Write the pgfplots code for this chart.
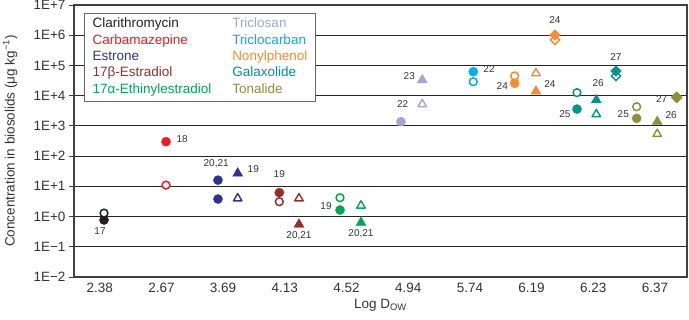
\documentclass[border=0pt]{standalone}
\usepackage{pgfplots}
\pgfplotsset{compat=1.18}
\usepackage{fontspec}
\setmainfont{Liberation Sans}
\definecolor{cClar}{HTML}{231F20}
\definecolor{cCarb}{HTML}{ED1C24}
\definecolor{cEone}{HTML}{2E3192}
\definecolor{cEtwo}{HTML}{992B2B}
\definecolor{cEE}{HTML}{00A651}
\definecolor{cTCS}{HTML}{9FA6D6}
\definecolor{cTCC}{HTML}{00AEEF}
\definecolor{cNP}{HTML}{F68B33}
\definecolor{cGal}{HTML}{00938F}
\definecolor{cTon}{HTML}{8F8E3B}
\definecolor{lbl}{HTML}{333333}
\pgfplotsset{
 fc/.style={only marks, mark=*, mark size=4.6pt, color=#1, mark options={solid, fill=#1, draw=#1, line width=0.3pt}},
 oc/.style={only marks, mark=*, mark size=3.9pt, color=#1, mark options={solid, fill=white, draw=#1, line width=1.5pt}},
 ft/.style={only marks, mark=triangle*, mark size=5.8pt, color=#1, mark options={solid, fill=#1, draw=#1, line width=0.3pt}},
 ot/.style={only marks, mark=triangle*, mark size=4.9pt, color=#1, mark options={solid, fill=white, draw=#1, line width=1.4pt, line join=round}},
 fd/.style={only marks, mark=square*, mark size=3.8pt, color=#1, mark options={solid, rotate=45, fill=#1, draw=#1, line width=0.3pt}},
 od/.style={only marks, mark=square*, mark size=3.3pt, color=#1, mark options={solid, rotate=45, fill=white, draw=#1, line width=1.5pt}},
}
\newcommand{\lab}[3]{\node[font=\fontsize{10}{12}\selectfont, text=lbl, inner sep=0pt] at (axis cs:#1,#2) {#3};}
\begin{document}
\begin{tikzpicture}
\begin{axis}[
 name=ax,
 scale only axis, width=613pt, height=272pt,
 xmin=-0.4165, xmax=9.519,
 ymode=log, ymin=1e-2, ymax=1e7,
 xtick={0,1,2,3,4,5,6,7,8,9},
 xticklabels={2.38,2.67,3.69,4.13,4.52,4.94,5.74,6.19,6.23,6.37},
 ytick={1e-2,1e-1,1,1e1,1e2,1e3,1e4,1e5,1e6,1e7},
 yticklabels={1E−2,1E−1,1E+0,1E+1,1E+2,1E+3,1E+4,1E+5,1E+6,1E+7},
 yminorticks=false,
 ymajorgrids,
 major grid style={line width=0.9pt, color=black!85},
 axis line style={line width=1.1pt, color=black!75},
 ytick pos=left, ytick align=outside,
 major tick length=5pt,
 ytick style={line width=1pt, color=black!75},
 xtick style={draw=none},
 ticklabel style={font=\fontsize{13.5}{16}\selectfont, text=lbl},
 xticklabel style={yshift=-2.5pt},
 xlabel={Log D\textsubscript{OW}},
 ylabel={Concentration in biosolids (μg kg\textsuperscript{−1})},
 label style={font=\fontsize{13.5}{16}\selectfont, text=lbl},
 xlabel style={at={(axis description cs:0.5,-0.103)}, anchor=center},
 ylabel style={at={(axis description cs:-0.104,0.5)}, anchor=center},
 clip=false,
]
% Clarithromycin
\addplot[fc=cClar] coordinates {(0.07,0.77)};
\addplot[oc=cClar] coordinates {(0.07,1.3)};
% Carbamazepine
\addplot[fc=cCarb] coordinates {(1.075,300)};
\addplot[oc=cCarb] coordinates {(1.075,11)};
% Estrone
\addplot[fc=cEone] coordinates {(1.917,16) (1.917,3.8)};
\addplot[ft=cEone] coordinates {(2.237,27)};
\addplot[ot=cEone] coordinates {(2.237,4.0)};
% 17b-Estradiol
\addplot[oc=cEtwo] coordinates {(2.911,3.1)};
\addplot[fc=cEtwo] coordinates {(2.911,6.2)};
\addplot[ot=cEtwo] coordinates {(3.23,4.0)};
\addplot[ft=cEtwo] coordinates {(3.23,0.55)};
% 17a-Ethinylestradiol
\addplot[oc=cEE] coordinates {(3.895,4.2)};
\addplot[fc=cEE] coordinates {(3.895,1.65)};
\addplot[ot=cEE] coordinates {(4.235,2.3)};
\addplot[ft=cEE] coordinates {(4.235,0.63)};
% Triclosan
\addplot[fc=cTCS] coordinates {(4.883,1380)};
\addplot[ft=cTCS] coordinates {(5.228,33000)};
\addplot[ot=cTCS] coordinates {(5.228,5200)};
% Triclocarban
\addplot[oc=cTCC] coordinates {(6.055,29000)};
\addplot[fc=cTCC] coordinates {(6.055,62000)};
% Nonylphenol
\addplot[oc=cNP] coordinates {(6.726,45000)};
\addplot[fc=cNP] coordinates {(6.726,25700)};
\addplot[ot=cNP] coordinates {(7.071,55000)};
\addplot[ft=cNP] coordinates {(7.071,14000)};
\addplot[od=cNP] coordinates {(7.379,700000)};
\addplot[fd=cNP] coordinates {(7.379,1020000)};
% Galaxolide
\addplot[oc=cGal] coordinates {(7.736,12600)};
\addplot[fc=cGal] coordinates {(7.736,3600)};
\addplot[ft=cGal] coordinates {(8.049,7200)};
\addplot[ot=cGal] coordinates {(8.049,2420)};
\addplot[od=cGal] coordinates {(8.368,44800)};
\addplot[fd=cGal] coordinates {(8.368,65600)};
% Tonalide
\addplot[oc=cTon] coordinates {(8.703,4300)};
\addplot[fc=cTon] coordinates {(8.703,1780)};
\addplot[ft=cTon] coordinates {(9.037,1380)};
\addplot[ot=cTon] coordinates {(9.037,540)};
\addplot[od=cTon] coordinates {(9.352,8600)};
\addplot[fd=cTon] coordinates {(9.352,9000)};
% labels
\lab{0.005}{0.33}{17}
\lab{1.337}{369}{18}
\lab{1.888}{57.8}{20,21}
\lab{2.489}{36.6}{19}
\lab{2.911}{25}{19}
\lab{3.23}{0.24}{20,21}
\lab{3.668}{2.23}{19}
\lab{4.235}{0.28}{20,21}
\lab{4.911}{5430}{22}
\lab{5.018}{44800}{23}
\lab{6.31}{76400}{22}
\lab{6.525}{21400}{24}
\lab{7.298}{24400}{24}
\lab{7.379}{3.19e6}{24}
\lab{7.541}{2420}{25}
\lab{8.079}{25700}{26}
\lab{8.368}{190000}{27}
\lab{8.486}{2420}{25}
\lab{9.261}{2300}{26}
\lab{9.109}{7760}{27}
% legend
\node[anchor=north west, xshift=10.3pt, yshift=-7.7pt, draw=black!60, line width=0.7pt, fill=white,
      inner xsep=8pt, inner ysep=3.5pt, font=\fontsize{13.5}{16.3}\selectfont]
  at (rel axis cs:0,1) {%
  \begin{tabular}{@{}p{139.6pt}@{}l@{}}
  \textcolor{cClar}{Clarithromycin} & \textcolor{cTCS}{Triclosan}\\
  \textcolor{cCarb}{Carbamazepine} & \textcolor{cTCC}{Triclocarban}\\
  \textcolor{cEone}{Estrone} & \textcolor{cNP}{Nonylphenol}\\
  \textcolor{cEtwo}{17β-Estradiol} & \textcolor{cGal}{Galaxolide}\\
  \textcolor{cEE}{17α-Ethinylestradiol} & \textcolor{cTon}{Tonalide}
  \end{tabular}};
\end{axis}
\pgfresetboundingbox
\path ([shift={(-74pt,-42pt)}]ax.south west) rectangle ([shift={(2pt,5pt)}]ax.north east);
\end{tikzpicture}
\end{document}
